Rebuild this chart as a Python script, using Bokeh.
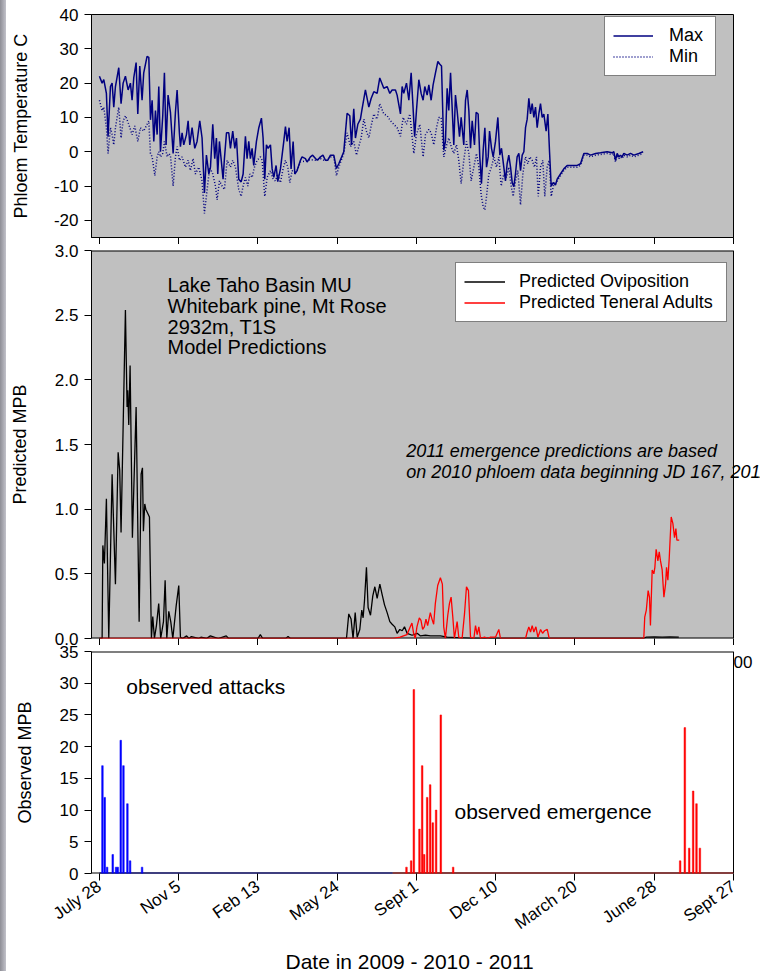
import math
from bokeh.plotting import figure
from bokeh.layouts import column, row
from bokeh.models import (Legend, LegendItem, Label, Range1d, FixedTicker,
                          NumeralTickFormatter, CustomLabelingPolicy, Title, Div)
from bokeh.embed import file_html
from bokeh.resources import INLINE

FONT = "Liberation Sans"

# ---------------- data ----------------
tick_days = [0, 100, 200, 300, 400, 500, 600, 700, 800]
tick_labels = ["July 28", "Nov 5", "Feb 13", "May 24", "Sept 1", "Dec 10",
               "March 20", "June 28", "Sept 27"]

max_days = [0, 3.4, 5.5, 8.8, 10.9, 13.9, 16, 18.1, 20.2, 24.4,
            27.3, 29.9, 32.8, 36.2, 39.1, 41.2, 43.3, 46.3, 48.4, 50.9,
            53.8, 55.9, 60.1, 62.3, 64.4, 66.5, 68.6, 70.7, 72.8, 74.9,
            77, 79.9, 82, 84.1, 86.6, 89.6, 93, 95.9, 98, 100.9,
            102.2, 104.3, 106.4, 109.8, 111.9, 114, 116.9, 120.3, 123.2, 126.6,
            129.5, 132.5, 135, 138, 140.1, 143, 145.5, 147.6, 149.3, 151.4,
            153.5, 156, 157.7, 160.3, 163.2, 165.3, 168.2, 170.8, 172.9, 175.8,
            178.8, 181.3, 184.2, 186.3, 188.4, 190.5, 192.6, 194.7, 198.1, 201.1,
            204.4, 206.5, 208.6, 210.7, 212.8, 215.8, 217.9, 220, 222.9, 225,
            228.4, 230.5, 232.6, 234.7, 236.8, 239.3, 241.8, 244.4, 246.5, 249.4,
            253.6, 255.7, 259.9, 262, 266.2, 269, 272.6, 275, 278.9, 282,
            285.2, 288, 291.5, 295.7, 299.1, 302, 308.3, 312.5, 315.9, 318,
            320.9, 323, 326, 329.3, 331.4, 335.6, 339.9, 342.8, 346.2, 350.4,
            353.7, 358.8, 363, 366.4, 369.3, 373.5, 375.6, 379.8, 381.9, 384,
            387.4, 390.4, 393.3, 397.7, 400, 403, 405.9, 408.4, 410.5, 413.5,
            415.6, 418.5, 421, 424, 427, 429.5, 431.6, 434.5, 436.6, 438.7,
            440.8, 443, 445, 447.1, 449.2, 451.3, 454.3, 456.4, 459.7, 461.9,
            464, 466.1, 468.2, 470.3, 473.2, 475.3, 477.8, 479.9, 482, 484.2,
            486.3, 488.4, 490.5, 492.2, 494.7, 496.8, 499.7, 502.7, 505.2, 507.3,
            510.2, 512.3, 514.4, 516.5, 518.7, 520.8, 522.8, 524.9, 527, 529.2,
            531.3, 533.4, 535.5, 537.6, 539.7, 541.8, 543.9, 546, 548.1, 550.2,
            552.3, 554.4, 556.5, 558.6, 560.7, 563.6, 565.8, 567.9, 570, 572.5,
            575.4, 577.5, 581.7, 585.9, 590.1, 596.5, 602.8, 607, 609.1, 611.2,
            615.4, 619.6, 626, 632.2, 640.6, 647, 649, 651.1, 653.2, 655.4,
            657.4, 659.5, 661.6, 665.9, 670.1, 674.3, 680.6, 686]
max_temp = [22, 20, 21, 17, 4.4, 19, 20, 13, 19, 24.5,
            14, 20, 22, 18, 20, 15, 21.5, 26, 11, 25,
            15, 23, 27.8, 27.5, 9.3, 15, 3, 12, 5, 19,
            0, 10.5, 23, 2, 16.5, 11.5, -0.5, 11.5, 18, 5.5,
            1.5, 5.5, 2, 5, 9, 2, 7, 1, 3, 9,
            4, -12, -1, -6.5, -4.5, 8, -2, 4, -6.5, 3,
            -2, -8, -2, 5.5, 5.5, 1, 6, 1, 4, -8,
            -8.8, -6.5, 4.5, -2, 3, -2, 1, -4, 3, 7,
            9.8, 4, -8, 2, 1, 2, -5, -7.5, -4, -8.7,
            -5, -1, 3, 7.3, 3, 7, -5, 3, -6.5, -5.5,
            -2.5, -1.5, -2, -3, -1.5, -1, -2, -2.5, -1.5, -1,
            -2.5, -2.5, -1, -1, -4.9, -3.5, 0, 11.2, 10.5, 2,
            12.5, 4, 8, 9.5, 12.5, 18, 13, 15.5, 17.5, 17,
            21.5, 18.5, 19, 17, 18, 18, 16.5, 11, 19, 17,
            20, 15, 23, 4.4, 12, 21, 17, 15, 19, 16.5,
            19.5, 15, 19.5, 23, 26.3, 25.5, 25, 0.5, 3, 18.5,
            12, 23, 13, 2, 16.5, 12, 4.4, 10, 2, 15,
            18, 12, 1, 9, 2, 11.5, 11, -1.5, -9.3, 0.5,
            7, -4.5, -1.5, 6, 1, -1.5, 3, 10, -1, 1,
            -4.5, -8.5, -3.5, -1, -4.5, -9, -10.2, -6.5, -1.5, -0.5,
            -5.5, -1, 0, 7, 9.5, 15.6, 11, 14, 10, 13,
            7, 11, 14, 10, 11, 6, 11, 0, -10, -9,
            -9.7, -8, -6.5, -5, -4, -4, -4, -3.5, -2, -0.5,
            -0.5, -1, -0.5, -0.3, 0, -0.3, 0, -2.5, -0.5, -1.5,
            -1, -1.5, -0.5, -1, -0.5, -1, -0.5, 0]

min_days = [0, 3.4, 5.5, 8.8, 10.9, 13.9, 16, 18.1, 20.2, 24.4,
            27.3, 29.9, 32.8, 37, 41.2, 44.6, 48.4, 51.7, 55.9, 60.1,
            62.3, 64.4, 66.5, 69.9, 72.8, 74.9, 77, 79.9, 82, 85.4,
            87.5, 89.6, 93, 95.9, 98, 100.9, 104.3, 108.5, 111.9, 114.8,
            118.2, 121.1, 125.3, 129.5, 132.5, 135.9, 139.2, 143, 146.4, 148.5,
            151.4, 154.8, 157.7, 161.1, 165.3, 168.2, 171.6, 175.8, 178.8, 181.3,
            184.2, 187.2, 189.7, 192.6, 195.6, 198.9, 203.2, 205.3, 208.6, 211.6,
            215.8, 219.1, 222.1, 225, 228.4, 231.7, 234.7, 237.7, 240.2, 243.2,
            246.5, 249.4, 253.6, 259.9, 266.2, 272.6, 278.9, 285.2, 291.5, 295.7,
            299.1, 302, 308.3, 312.5, 316.7, 320.9, 324.3, 327.2, 330.2, 333.6,
            336.9, 339.9, 342.8, 346.2, 350.4, 353.7, 358.8, 363, 367.2, 371.4,
            375.6, 379.8, 383.2, 387.4, 391.6, 396.7, 400, 404.2, 408.4, 411.4,
            415.6, 418.5, 421.9, 425.3, 428.2, 431.2, 434.5, 437.5, 440.8, 443.8,
            447.1, 450.5, 453.4, 456.4, 459.7, 463.1, 466.1, 469, 472.4, 475.7,
            478.7, 481.6, 484.2, 486.3, 488.4, 491.3, 494.7, 497.6, 501, 504,
            506.9, 510.2, 513.6, 516.5, 519.5, 522, 525, 527.9, 531.3, 534.2,
            537.6, 540.5, 543, 546, 548.9, 551.4, 553.6, 556.5, 559.4, 561.9,
            564.9, 567.4, 570, 573.3, 577.5, 581.7, 585.9, 590.1, 596.5, 602.8,
            607, 609.1, 611.2, 615.4, 619.6, 626, 632.2, 640.6, 647, 649,
            651.1, 653.2, 655.4, 657.4, 659.5, 661.6, 665.9, 670.1, 674.3, 680.6,
            686]
min_temp = [15, 12, 13, 7, -0.5, 7, 5, 2, 7, 13,
            4, 9, 10.5, 8, 5, 7.5, 3, 7, 6, 8,
            9, -0.5, -1.5, -7, -1.5, 0, -1.5, -0.5, 3, -1.5,
            -0.5, -1, -10, -1.5, 1.5, -2.5, -1.5, -4.5, -2.5, -5.5,
            -2, -6.5, -4.5, -8.5, -18, -11, -4.5, -6.5, -10, -14,
            -8.5, -10, -11, -2.5, -4.5, -2.5, -4.5, -11, -13, -10,
            -7.5, -10, -6.5, -7.5, -4.5, -2.5, -1.5, -2.5, -13, -7.5,
            -5.5, -8, -8.5, -6.5, -9, -5, -2.5, -4.5, -9, -5.5,
            -6, -5.5, -3, -2.7, -2.3, -2.5, -2, -2.7, -1.5, -1.5,
            -7, -4.5, -0.5, 5.5, 1.5, 3, -1, 1.5, 4, 9.5,
            6, 4, 7.5, 11, 9.5, 14, 11, 10.5, 9, 8,
            7, 4.5, 10, 8, 11, -0.5, 5, 8, -1.5, 5,
            6.5, 5.5, 2, 7, 10, 10, -1.5, 1.5, 4, 1.5,
            -0.5, 2, -2.5, -9.3, -2.5, 3, -0.5, -8.5, -4.5, -0.5,
            -4.5, -12.5, -16, -17, -13, -6.5, -4.5, -1.5, -4.5, -1.5,
            -10, -6.5, -7.5, -4.5, -10, -13, -8.5, -5.5, -15.5, -6.5,
            -1.5, -3.5, -1.5, -2.5, -4.5, -1.5, -13, -4.5, -2.5, -13,
            -4.5, -2.5, -13, -9.5, -8.5, -7, -5.5, -4.5, -4.5, -4.5,
            -4, -2.5, -1, -1, -1.5, -1, -0.8, -0.5, -0.8, -0.5,
            -3, -1, -2, -1.5, -2, -1, -1.5, -1, -1.5, -1,
            -0.5]

ovi_days = [0, 3.4, 4.3, 6.3, 8.8, 11.8, 16, 20.2, 23.6, 25.6,
            27.3, 32.8, 34.9, 35.7, 37, 38.7, 41.6, 46.3, 50.1, 52.6,
            54.3, 55.5, 57.2, 58.5, 63.1, 65.6, 67.3, 69.4, 71.9, 74.8,
            77.3, 80.8, 82.9, 85, 87.5, 90, 92.6, 96.8, 100.1, 102.2,
            105, 110, 113, 116, 125, 128, 135, 140, 150, 160,
            163, 200, 203, 206, 235, 238, 241, 311.7, 314.6, 317.5,
            320, 322.7, 325.2, 328.5, 331, 332.7, 334.4, 336.9, 339, 342,
            344.9, 347.5, 350.4, 353.8, 356.7, 359.7, 363, 366.4, 369.3, 372.7,
            375.6, 379, 382, 384.9, 388.2, 394.5, 400.9, 405.1, 411.4, 417.7,
            430.3, 438.7, 455.6, 470, 686, 690, 700, 710, 720, 731]
ovi_vals = [0, 0, 0.72, 0.58, 1.08, 0, 1.27, 0.42, 1.44, 1.3,
            0.82, 2.54, 1.79, 1.92, 1.65, 2.11, 0.78, 1.79, 0.13, 1.27,
            1.32, 0.83, 1.04, 1.0, 0.94, 0, 0.17, 0, 0.1, 0.27,
            0, 0.13, 0.45, 0, 0.21, 0.13, 0, 0.25, 0.41, 0.01,
            0, 0.02, 0, 0.015, 0, 0.01, 0, 0.02, 0, 0.02,
            0, 0, 0.03, 0, 0, 0.015, 0, 0, 0.19, 0.15,
            0, 0.2, 0.01, 0.07, 0.22, 0.16, 0.29, 0.55, 0.24, 0.18,
            0.33, 0.4, 0.31, 0.42, 0.34, 0.26, 0.2, 0.13, 0.11, 0.09,
            0.04, 0.07, 0.06, 0.09, 0.04, 0.025, 0.04, 0.02, 0.025, 0.02,
            0.02, 0.01, 0.005, 0, 0, 0.01, 0.012, 0.01, 0.012, 0.01]

ten_days = [0, 371, 379.4, 388, 392.2, 394.3, 396.4, 398.5, 400.6, 403.6,
            405.7, 407.8, 409.9, 412, 414.1, 417.5, 419.6, 421.7, 423.8, 426.8,
            430.2, 432.7, 434.4, 436.5, 439.5, 441.6, 443.7, 445.8, 447.9, 451.3,
            453.4, 457.6, 460.6, 463.1, 465.6, 468.2, 472.4, 474.5, 476.6, 478.7,
            480.8, 485.9, 490, 493.4, 499.7, 503.9, 506, 537.6, 539.7, 541.8,
            543.9, 546, 548.1, 550.7, 553.2, 556.6, 559.1, 561.6, 565, 567.5,
            686.8, 688, 690, 692.3, 694, 695.2, 697.4, 699.5, 700.8, 702.4,
            704.6, 706.3, 707.9, 710, 712.2, 714.3, 715.5, 717.2, 718.9, 721.4,
            723.5, 725.6, 727.3, 728.6, 731.5]
ten_vals = [0, 0, 0.01, 0.03, 0.09, 0.12, 0.04, 0, 0.09, 0.16,
            0.14, 0.07, 0.09, 0.15, 0.1, 0.2, 0.15, 0.11, 0.27, 0.41,
            0.47, 0.42, 0.09, 0, 0.18, 0.27, 0.32, 0.17, 0, 0.13,
            0.01, 0, 0.19, 0.4, 0.37, 0.01, 0, 0.1, 0.03, 0.09,
            0, 0.01, 0, 0.01, 0.01, 0.07, 0, 0, 0.05, 0.09,
            0.05, 0.1, 0.05, 0.09, 0.01, 0.07, 0.04, 0.06, 0.07, 0,
            0, 0.165, 0.22, 0.37, 0.32, 0.1, 0.53, 0.5, 0.55, 0.69,
            0.6, 0.67, 0.6, 0.53, 0.32, 0.42, 0.55, 0.45, 0.62, 0.94,
            0.89, 0.78, 0.85, 0.76, 0.76]

attack_days = [3.8, 6.7, 9.7, 16.8, 21, 23.1, 26.9, 30.3, 35.3, 38.7, 53.8]
attack_counts = [17, 12, 1, 3, 1, 1, 21, 17, 11, 2, 1]
emerg_days = [387.4, 393.3, 396.7, 403.8, 407.2, 409.7, 413.5, 417.3, 420.6,
              424.8, 430.7, 446.3, 732.7, 738.6, 744.1, 749.1, 753.3, 757.6]
emerg_counts = [1, 2, 29, 7, 17, 3, 12, 14, 8, 10, 25, 1, 2, 23, 4, 13, 11, 4]
attack_span = [0, 370]
emerg_span = [370, 800]

# ---------------- layout constants ----------------
X0, X1 = -10, 800                 # plotted day range (axis box)
FRAME_W = 642                     # px of the boxed panel
WIDE_W = 669                      # wider drawing area so texts may overflow
X1_WIDE = X0 + (X1 - X0) * WIDE_W / FRAME_W
LEFT = 85

HIDE_ALL = CustomLabelingPolicy(code="""
    const ids = [...indices]
    for (const i of ids) indices.unset(i)
    return indices
""")


def style_axes(p):
    p.grid.visible = False
    for ax in (p.xaxis[0], p.yaxis[0]):
        ax.axis_line_color = "black"
        ax.major_tick_line_color = "black"
        ax.minor_tick_line_color = None
        ax.major_tick_out = 7
        ax.major_tick_in = 0
        ax.major_label_text_font = FONT
        ax.major_label_text_font_size = "17px"
        ax.major_label_text_color = "black"
        ax.axis_label_text_font = FONT
        ax.axis_label_text_font_size = "18px"
        ax.axis_label_text_font_style = "normal"
        ax.axis_label_text_color = "black"
    p.yaxis.major_label_standoff = 6
    p.xaxis.ticker = FixedTicker(ticks=tick_days)


def hide_x_labels(p):
    p.xaxis.major_label_text_font_size = "0px"
    p.xaxis.major_label_standoff = 0
    p.xaxis.major_label_policy = HIDE_ALL


def wide_fig(frame_h, y_rng, top, bottom, panel_bg):
    """Panel whose drawing area runs past the right spine; box drawn by hand."""
    p = figure(frame_width=WIDE_W, frame_height=frame_h,
               x_range=Range1d(X0, X1_WIDE), y_range=Range1d(*y_rng),
               output_backend="svg", toolbar_location=None,
               min_border_left=LEFT, min_border_right=0,
               min_border_top=top, min_border_bottom=bottom,
               background_fill_color="white", border_fill_color="white",
               outline_line_color=None)
    style_axes(p)
    p.xaxis.axis_line_color = None
    y0, y1 = y_rng
    p.quad(left=X0, right=X1, bottom=y0, top=y1, fill_color=panel_bg,
           line_color=None)
    p.line([X0, X1], [y1, y1], line_color="black", line_width=2)
    p.line([X0, X1], [y0, y0], line_color="black", line_width=2)
    p.line([X1, X1], [y0, y1], line_color="black", line_width=1)
    return p


# ---------------- top: phloem temperature ----------------
p1 = figure(frame_width=FRAME_W, frame_height=223,
            x_range=Range1d(X0, X1), y_range=Range1d(-25, 40),
            output_backend="svg", toolbar_location=None,
            min_border_left=LEFT, min_border_right=27,
            min_border_top=14, min_border_bottom=7,
            background_fill_color="#c0c0c0", border_fill_color="white",
            outline_line_color="black", outline_line_width=1)
style_axes(p1)
hide_x_labels(p1)
p1.yaxis.ticker = FixedTicker(ticks=[-20, -10, 0, 10, 20, 30, 40])
p1.yaxis.formatter = NumeralTickFormatter(format="0")
p1.yaxis.axis_label = "Phloem Temperature C"
p1.yaxis.axis_label_standoff = 20
r_min = p1.line(min_days, min_temp, line_color="#000080", line_width=1.5,
                line_dash="1 2")
r_max = p1.line(max_days, max_temp, line_color="#000080", line_width=1.5)
leg1 = Legend(items=[LegendItem(label="Max", renderers=[r_max]),
                     LegendItem(label="Min", renderers=[r_min])],
              location=(513, 161), orientation="vertical",
              label_text_font=FONT, label_text_font_size="18px",
              label_text_color="black",
              glyph_width=40, glyph_height=19, label_height=19, label_width=38,
              label_standoff=16, padding=8, spacing=0, margin=0,
              border_line_color="black", border_line_width=1,
              background_fill_color="white", background_fill_alpha=1)
p1.add_layout(leg1)

# ---------------- middle: predicted MPB ----------------
p2 = wide_fig(388, (0, 3), 6, 6, "#c0c0c0")
hide_x_labels(p2)
p2.yaxis.ticker = FixedTicker(ticks=[0, 0.5, 1, 1.5, 2, 2.5, 3])
p2.yaxis.formatter = NumeralTickFormatter(format="0.0")
p2.yaxis.axis_label = "Predicted MPB"
p2.yaxis.axis_label_standoff = 22
r_ovi = p2.line(ovi_days, ovi_vals, line_color="black", line_width=1.3)
r_ten = p2.line(ten_days, ten_vals, line_color="#ff0000", line_width=1.3)
leg2 = Legend(items=[LegendItem(label="Predicted Oviposition", renderers=[r_ovi]),
                     LegendItem(label="Predicted Teneral Adults", renderers=[r_ten])],
              location=(364, 316), orientation="vertical",
              label_text_font=FONT, label_text_font_size="18px",
              label_text_color="black",
              glyph_width=41, glyph_height=19, label_height=19, label_width=199,
              label_standoff=14, padding=8, spacing=0, margin=0,
              border_line_color="black", border_line_width=1,
              background_fill_color="white", background_fill_alpha=1)
p2.add_layout(leg2)

block = ["Lake Taho Basin MU", "Whitebark pine, Mt Rose", "2932m, T1S",
         "Model Predictions"]
for i, t in enumerate(block):
    p2.add_layout(Label(x=86, y=2.73 - i * 0.159, text=t, text_font=FONT,
                        text_font_size="20px", text_baseline="middle",
                        text_color="black"))
note = ["2011 emergence predictions are based",
        "on 2010 phloem data beginning JD 167, 2011"]
for i, t in enumerate(note):
    p2.add_layout(Label(x=387, y=1.446 - i * 0.155, text=t, text_font=FONT,
                        text_font_size="18px", text_font_style="italic",
                        text_baseline="middle", text_color="black"))

# ---------------- bottom: observed MPB ----------------
p3 = wide_fig(222, (0, 35), 6, 99, "white")
p3.yaxis.ticker = FixedTicker(ticks=[0, 5, 10, 15, 20, 25, 30, 35])
p3.yaxis.formatter = NumeralTickFormatter(format="0")
p3.yaxis.axis_label = "Observed MPB"
p3.yaxis.axis_label_standoff = 22
p3.xaxis.major_label_overrides = {d: s for d, s in zip(tick_days, tick_labels)}
p3.xaxis.major_label_orientation = math.radians(35)
p3.xaxis.major_label_standoff = 4
p3.add_layout(Title(text="Date in 2009 - 2010 - 2011", align="left",
                    offset=194, standoff=9, text_font=FONT,
                    text_font_size="21px", text_font_style="normal",
                    text_color="black"), "below")
p3.line(attack_span, [0, 0], line_color="#000080", line_width=2)
p3.line(emerg_span, [0, 0], line_color="#8b0000", line_width=2)
p3.vbar(x=attack_days, top=attack_counts, width=2, bottom=0,
        fill_color="#0000ff", line_color="#0000ff", line_width=0.5)
p3.vbar(x=emerg_days, top=emerg_counts, width=2, bottom=0,
        fill_color="#ff0000", line_color="#ff0000", line_width=0.5)
p3.add_layout(Label(x=34, y=29.5, text="observed attacks", text_font=FONT,
                    text_font_size="21px", text_baseline="middle",
                    text_color="black"))
p3.add_layout(Label(x=448, y=9.8, text="observed emergence", text_font=FONT,
                    text_font_size="21px", text_baseline="middle",
                    text_color="black"))
p3.add_layout(Label(x=X1, y=33.3, text="00", text_font=FONT,
                    text_font_size="17px", text_baseline="middle",
                    text_color="black"))

strip = Div(text="", width=6, height=971, margin=(0, 0, 0, 0),
            styles={"background": "linear-gradient(to right, #8e8e96, #c2c2ca)"})
layout = row(strip, column(p1, p2, p3, spacing=0), spacing=0)
open("out.html", "w").write(file_html(layout, INLINE))
